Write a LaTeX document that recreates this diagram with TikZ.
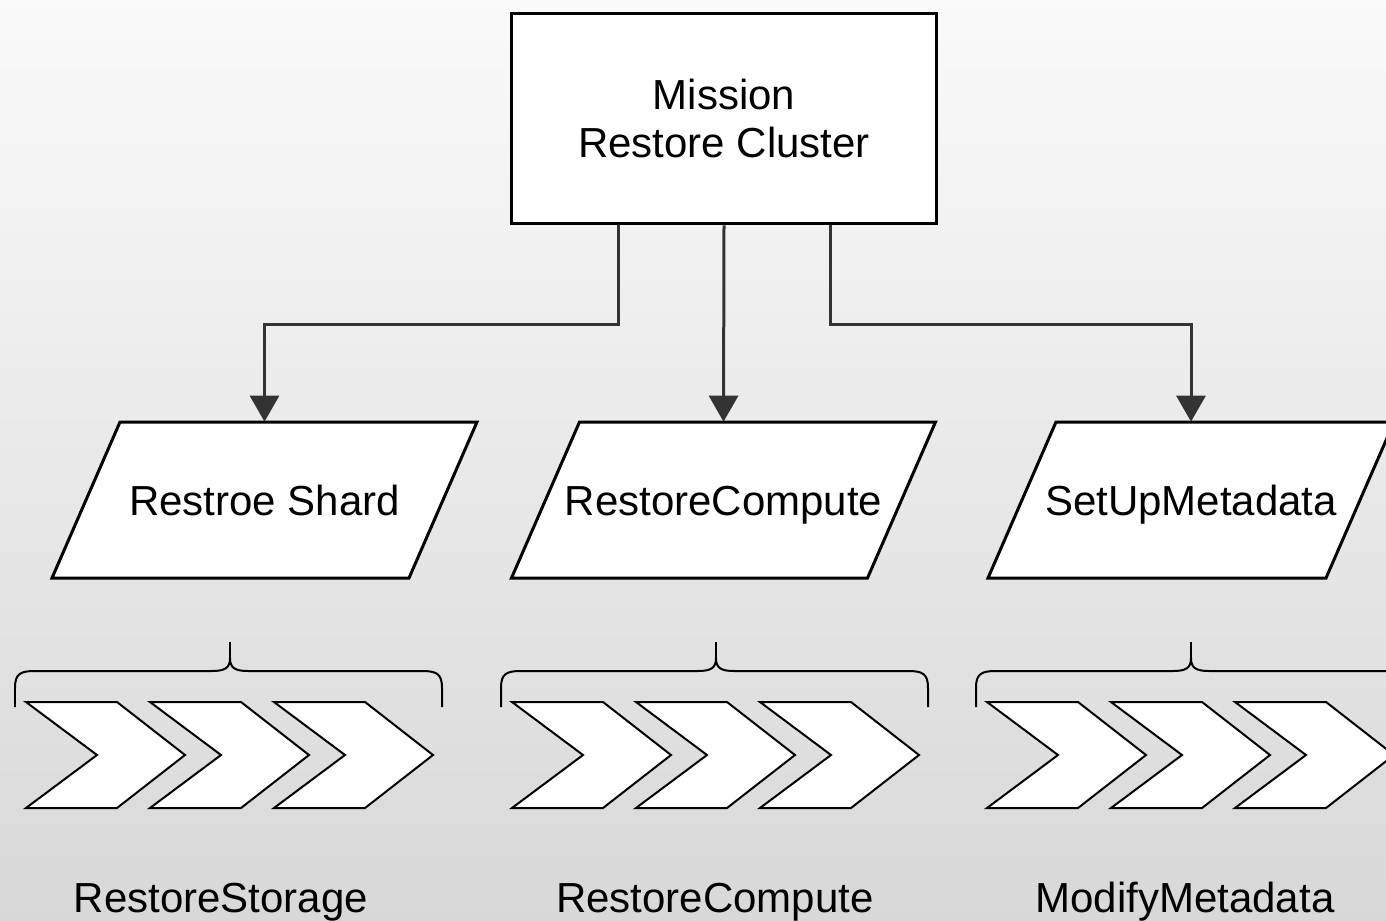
\documentclass[tikz,border=0pt]{standalone}
\usepackage{fontspec}
\setmainfont{Liberation Sans}
\usetikzlibrary{arrows.meta}
\usetikzlibrary{calc}

\definecolor{bgtop}{HTML}{FAFAFA}
\definecolor{bgbottom}{HTML}{D8D8D8}

\begin{document}
\begin{tikzpicture}[x=0.02cm, y=-0.02cm,
  txt/.style={font=\fontsize{23.9}{27.3}\selectfont},
  mainbox/.style={txt, draw, line width=0.06cm, fill=white, align=center,
    minimum width=8.52cm, minimum height=4.22cm, inner sep=0},
  task/.style={txt, minimum height=3.12cm, inner sep=0, text height=0.6cm, text depth=0pt},
  para/.style={draw, fill=white, line width=0.06cm},
  link/.style={draw=black!80, line width=0.06cm, -{Triangle[width=0.58cm,length=0.52cm]}},
  chev/.style={draw, fill=white, line width=0.04cm},
  grp/.style={line width=0.04cm}]
\useasboundingbox (0,0) rectangle (1386,920);
\shade[top color=bgtop, bottom color=bgbottom] (0,0) rectangle (1386,920);

\node[mainbox] (mission) at (724,118.5) {Mission\\Restore Cluster};

% slanted boxes, centre/width of the straight part
\foreach \x/\w in {264.5/357, 723.5/356, 1191/338}
  \filldraw[para] ({\x-\w/2-34},578) -- ++(68,-156) -- ++(\w,0) -- ++(-68,156) -- cycle;

\node[task] (shard) at (264.5,500) {Restroe Shard};
\node[task] (compute) at (723.5,500) {RestoreCompute};
\node[task] (metadata) at (1191,500) {SetUpMetadata};

\draw[link] ($(mission.south)+(-106,0)$) -- ++(0,99) -| (shard.north);
\draw[link] (mission.south) -- (compute.north);
\draw[link] ($(mission.south)+(106,0)$) -- ++(0,99) -| (metadata.north);

% brace and three steps under each task
\foreach \g in {0,486,961} {
  \begin{scope}[shift={(\g,0)}]
    \draw[grp] (15,707) -- (15,688) .. controls (15,674) and (20,671) .. (35,671)
      -- (212,671) .. controls (225,671) and (230,668) .. (230,658)
      .. controls (230,668) and (235,671) .. (248,671)
      -- (422,671) .. controls (437,671) and (442,674) .. (442,688) -- (442,707);
    \draw[line width=0.05cm] (230,658) -- (230,642);
    \foreach \c in {0,1,2}
      \filldraw[chev] ({26+124*\c},702) -- ++(91,0) -- ++(68,53) -- ++(-68,53)
        -- ++(-91,0) -- ++(71,-53) -- cycle;
  \end{scope}
}

\node[txt, anchor=base] (storage) at (221,912) {RestoreStorage};
\node[txt, anchor=base] (computestep) at (715,912) {RestoreCompute};
\node[txt, anchor=base] (modify) at (1185,912) {ModifyMetadata};
\end{tikzpicture}
\end{document}
